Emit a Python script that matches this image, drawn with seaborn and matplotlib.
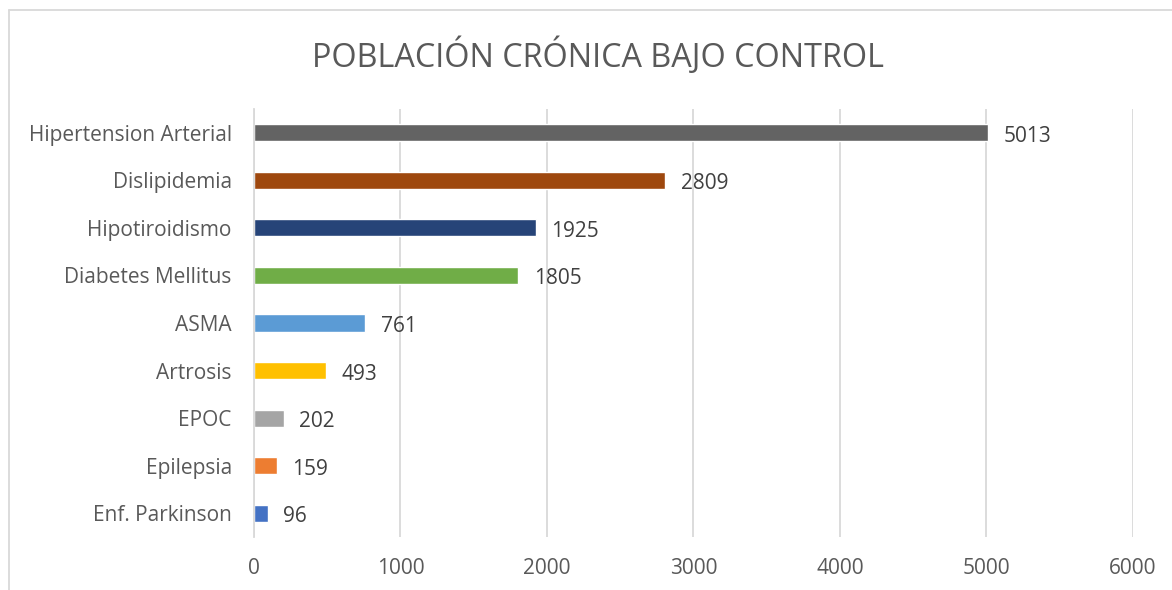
import matplotlib
matplotlib.use("Agg")
import matplotlib.pyplot as plt
import seaborn as sns
import pandas as pd

# data
categories = ["Hipertension Arterial", "Dislipidemia", "Hipotiroidismo", "Diabetes Mellitus",
              "ASMA", "Artrosis", "EPOC", "Epilepsia", "Enf. Parkinson"]
values = [5013, 2809, 1925, 1805, 761, 493, 202, 159, 96]
colors = ["#636363", "#9E480E", "#264478", "#70AD47", "#5B9BD5",
          "#FFC000", "#A5A5A5", "#ED7D31", "#4472C4"]
x_ticks = [0, 1000, 2000, 3000, 4000, 5000, 6000]

df = pd.DataFrame({"cat": categories, "val": values})

sns.set_theme(style="white")
plt.rcParams["font.family"] = ["Open Sans", "DejaVu Sans"]
text_col = "#595959"

fig = plt.figure(figsize=(11.72, 5.9), dpi=100)
ax = fig.add_axes([0.2167, 0.0898, 0.75, 0.7255])

sns.barplot(data=df, x="val", y="cat", hue="cat", palette=colors, legend=False,
            width=0.36, saturation=1, ax=ax, orient="h")

ax.set_xlim(0, 6000)
ax.set_xticks(x_ticks)
ax.set_xticklabels([str(t) for t in x_ticks])
ax.grid(axis="x", color="#D9D9D9", linewidth=1.3)
ax.grid(axis="y", visible=False)
ax.set_axisbelow(True)
for s in ["top", "right", "bottom"]:
    ax.spines[s].set_visible(False)
ax.spines["left"].set_color("#D9D9D9")
ax.spines["left"].set_linewidth(1.3)
ax.tick_params(axis="both", length=0, labelsize=15, colors=text_col)
ax.tick_params(axis="x", pad=15)
ax.tick_params(axis="y", pad=16)
ax.set_xlabel("")
ax.set_ylabel("")

# value labels, sitting a little below the bar centre like in the original
for c in ax.containers:
    lbls = ax.bar_label(c, padding=11, fontsize=15, color="#404040")
    for t in lbls:
        t.xyann = (t.xyann[0], -2.5)

fig.text(0.51, 0.905, "POBLACIÓN CRÓNICA BAJO CONTROL", ha="center", va="center",
         fontsize=23.3, color=text_col)

# chart border (left and top edges visible)
fig.add_artist(plt.Line2D([0.0077, 0.0077], [0, 0.983], color="#D9D9D9", lw=1.3,
                          transform=fig.transFigure))
fig.add_artist(plt.Line2D([0.0077, 1.0], [0.983, 0.983], color="#D9D9D9", lw=1.3,
                          transform=fig.transFigure))

fig.savefig("out.png", dpi=100, facecolor="white")
